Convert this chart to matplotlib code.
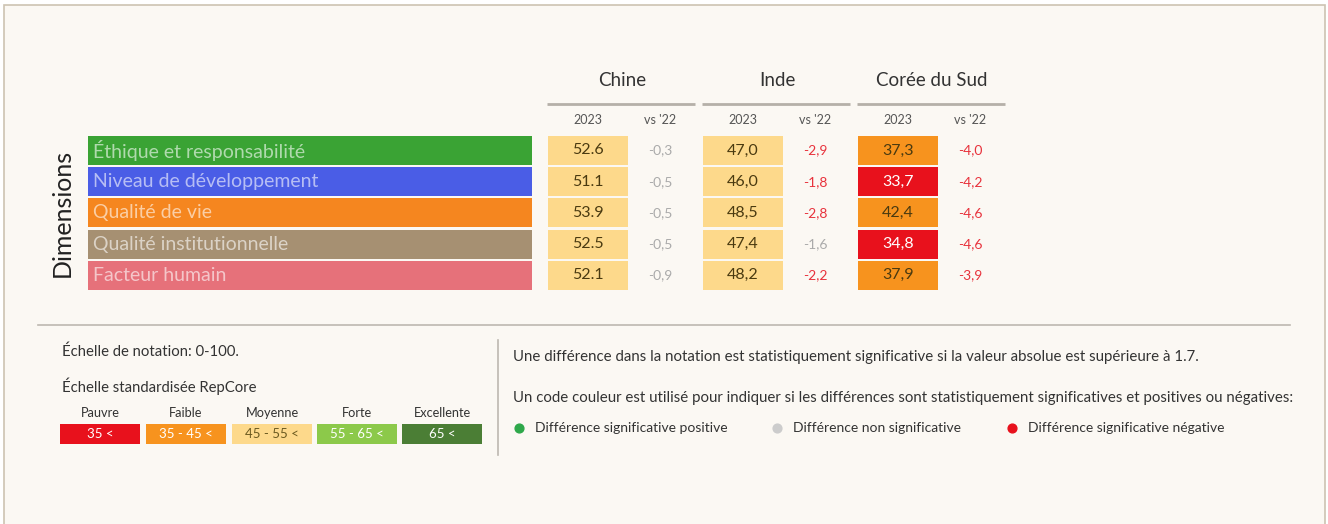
import matplotlib
matplotlib.use("Agg")
import matplotlib.pyplot as plt
from matplotlib.patches import Rectangle

plt.rcParams['font.family'] = ['Lato', 'DejaVu Sans']

# data
dimensions = ["Éthique et responsabilité", "Niveau de développement", "Qualité de vie",
              "Qualité institutionnelle", "Facteur humain"]
dim_colors = ["#3aa334", "#4a5de6", "#f5861f", "#a69072", "#e6717a"]
countries = ["Chine", "Inde", "Corée du Sud"]
chine_2023 = [52.6, 51.1, 53.9, 52.5, 52.1]
chine_vs22 = [-0.3, -0.5, -0.5, -0.5, -0.9]
inde_2023 = [47.0, 46.0, 48.5, 47.4, 48.2]
inde_vs22 = [-2.9, -1.8, -2.8, -1.6, -2.2]
coree_2023 = [37.3, 33.7, 42.4, 34.8, 37.9]
coree_vs22 = [-4.0, -4.2, -4.6, -4.6, -3.9]
decimal_sep = [".", ",", ","]

scale_labels = ["Pauvre", "Faible", "Moyenne", "Forte", "Excellente"]
scale_ranges = ["35 <", "35 - 45 <", "45 - 55 <", "55 - 65 <", "65 <"]
scale_bounds = [35, 45, 55, 65]
scale_colors = ["#e8111c", "#f7931e", "#fdd98b", "#8cc94a", "#4b7e35"]
sig_threshold = 1.7

scores = [chine_2023, inde_2023, coree_2023]
diffs = [chine_vs22, inde_vs22, coree_vs22]


def score_color(v):
    for b, c in zip(scale_bounds, scale_colors):
        if v < b:
            return c
    return scale_colors[-1]


def fmt(v, sep):
    return f"{v:.1f}".replace(".", sep)


fig = plt.figure(figsize=(13.28, 5.24), dpi=100, facecolor="white")
ax = fig.add_axes([0, 0, 1, 1])
ax.set_xlim(0, 1328)
ax.set_ylim(524, 0)
ax.axis("off")

# background card
ax.add_patch(Rectangle((4, 5), 1321, 530, facecolor="#fbf8f3", edgecolor="#cdc3b2", lw=1.2))

row_top = 136
row_h = 31.2
bar_h = 29

# dimension bars
ax.text(62, 213, "Dimensions", rotation=90, ha="center", va="center", fontsize=18, color="#222222")
for i, (name, col) in enumerate(zip(dimensions, dim_colors)):
    y = row_top + i * row_h
    ax.add_patch(Rectangle((88, y), 444, bar_h, facecolor=col, edgecolor="none"))
    ax.text(93, y + bar_h / 2, name, ha="left", va="center", fontsize=14,
            color="white", alpha=0.6)

# country columns
col_x0 = [548, 703, 858]
cell_w = 80
for k, country in enumerate(countries):
    x0 = col_x0[k]
    ax.text(x0 + 74, 80, country, ha="center", va="center", fontsize=13.5, color="#333333")
    ax.plot([x0 - 1, x0 + 147], [104, 104], color="#b5b0a8", lw=2, solid_capstyle="butt")
    ax.text(x0 + cell_w / 2, 120, "2023", ha="center", va="center", fontsize=9, color="#555555")
    ax.text(x0 + 112, 120, "vs '22", ha="center", va="center", fontsize=9, color="#555555")
    for i in range(len(dimensions)):
        y = row_top + i * row_h
        v = scores[k][i]
        c = score_color(v)
        ax.add_patch(Rectangle((x0, y), cell_w, bar_h, facecolor=c, edgecolor="none"))
        tc = "white" if c == scale_colors[0] else "#4a3a10"
        ax.text(x0 + cell_w / 2, y + bar_h / 2, fmt(v, decimal_sep[k]), ha="center", va="center",
                fontsize=11.5, color=tc)
        d = diffs[k][i]
        dc = "#aaaaaa" if abs(d) <= sig_threshold else "#e8323c"
        ax.text(x0 + 112, y + bar_h / 2, fmt(d, ","), ha="center",
                va="center", fontsize=10, color=dc)

# separators
ax.plot([38, 1290], [325, 325], color="#bdb8b0", lw=1.2)
ax.plot([498, 498], [340, 455], color="#bdb8b0", lw=1.2)

# left legend
ax.text(62, 352, "Échelle de notation: 0-100.", ha="left", va="center", fontsize=10.7, color="#333333")
ax.text(62, 386, "Échelle standardisée RepCore", ha="left", va="center", fontsize=10.7, color="#333333")
box_x = [60, 146, 232, 317, 402]
for j, (lab, rng, c) in enumerate(zip(scale_labels, scale_ranges, scale_colors)):
    x = box_x[j]
    ax.text(x + 40, 413, lab, ha="center", va="center", fontsize=9.2, color="#333333")
    ax.add_patch(Rectangle((x, 424), 80, 20, facecolor=c, edgecolor="none"))
    ax.text(x + 40, 434, rng, ha="center", va="center", fontsize=9.5,
            color="#6b5a20" if j == 2 else "white")

# right notes
ax.text(513, 357, "Une différence dans la notation est statistiquement significative si la valeur absolue "
        "est supérieure à 1.7.", ha="left", va="center", fontsize=10.8, color="#333333")
ax.text(513, 398, "Un code couleur est utilisé pour indiquer si les différences sont statistiquement "
        "significatives et positives ou négatives:", ha="left", va="center", fontsize=10.8, color="#333333")
legend_items = [("Différence significative positive", "#2ea84a", 519),
                ("Différence non significative", "#cccccc", 777),
                ("Différence significative négative", "#e8111c", 1012)]
for lab, c, x in legend_items:
    ax.scatter([x], [428], s=40, color=c, zorder=3)
    ax.text(x + 16, 428, lab, ha="left", va="center", fontsize=10, color="#333333")

fig.savefig("out.png", dpi=100, facecolor="white")
